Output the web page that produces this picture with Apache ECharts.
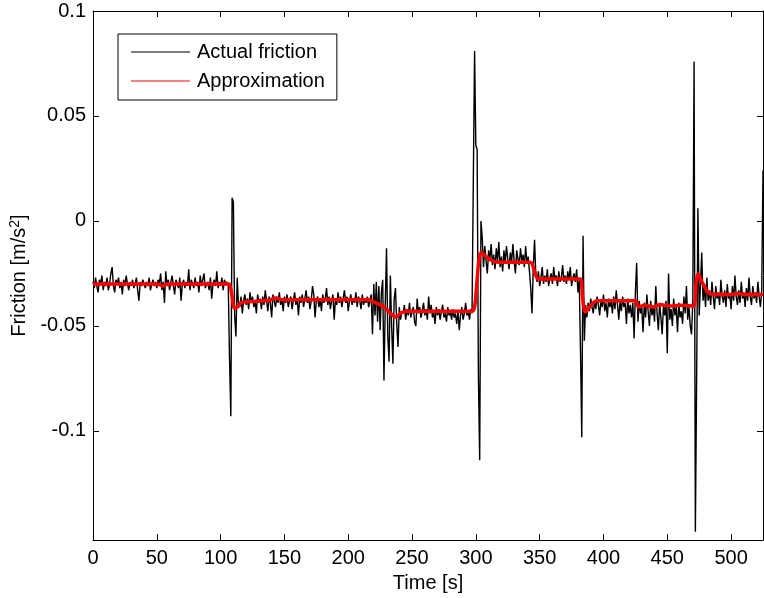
<!DOCTYPE html>
<html>
<head>
<meta charset="utf-8">
<script src="https://cdn.jsdelivr.net/npm/echarts@6/dist/echarts.min.js"></script>
<style>
html,body{margin:0;padding:0;background:#fff;}
#chart{width:764px;height:598px;}
</style>
</head>
<body>
<div id="chart"></div>
<script>
// ---- Data (time in s, friction in m/s^2), 1 s samples per segment ----
const xTicks = [0, 50, 100, 150, 200, 250, 300, 350, 400, 450, 500];
const yTicks = [-0.1, -0.05, 0, 0.05, 0.1];

const segAStart = 0;
const segA = [
  -0.029, -0.032, -0.027, -0.031, -0.034, -0.028, -0.030, -0.026, -0.033, -0.029,
  -0.031, -0.027, -0.033, -0.030, -0.025, -0.022, -0.031, -0.034, -0.028, -0.030,
  -0.027, -0.032, -0.029, -0.035, -0.028, -0.031, -0.026, -0.030, -0.033, -0.029,
  -0.031, -0.028, -0.032, -0.030, -0.027, -0.033, -0.038, -0.029, -0.031, -0.028,
  -0.030, -0.032, -0.029, -0.031, -0.027, -0.033, -0.030, -0.028, -0.031, -0.029,
  -0.032, -0.028, -0.030, -0.025, -0.033, -0.029, -0.039, -0.024, -0.031, -0.028,
  -0.033, -0.029, -0.026, -0.031, -0.035, -0.028, -0.030, -0.032, -0.027, -0.038,
  -0.030, -0.028, -0.032, -0.029, -0.031, -0.023, -0.033, -0.028, -0.030, -0.032,
  -0.027, -0.031, -0.029, -0.034, -0.026, -0.031, -0.028, -0.025, -0.032, -0.030,
  -0.029, -0.033, -0.027, -0.037, -0.030, -0.028, -0.031, -0.024, -0.032, -0.029,
  -0.031, -0.027, -0.033, -0.028, -0.030, -0.029
];
const spike1Start = 106;
const spike1 = [-0.031, -0.066, -0.093, 0.011, 0.009, -0.045, -0.055, -0.027, -0.040];
const segBStart = 115;
const segB = [
  -0.041, -0.036, -0.044, -0.038, -0.035, -0.040, -0.037, -0.042, -0.034, -0.039,
  -0.036, -0.041, -0.038, -0.044, -0.035, -0.039, -0.037, -0.042, -0.036, -0.040,
  -0.033, -0.038, -0.043, -0.036, -0.039, -0.046, -0.035, -0.038, -0.041, -0.036,
  -0.039, -0.034, -0.040, -0.037, -0.043, -0.036, -0.039, -0.035, -0.041, -0.038,
  -0.036, -0.042, -0.038, -0.034, -0.040, -0.037, -0.045, -0.036, -0.039, -0.035,
  -0.041, -0.037, -0.033, -0.039, -0.036, -0.042, -0.038, -0.031, -0.035, -0.046,
  -0.038, -0.036, -0.041, -0.037, -0.043, -0.035, -0.039, -0.037, -0.032, -0.040,
  -0.036, -0.042, -0.038, -0.035, -0.047, -0.037, -0.040, -0.034, -0.039, -0.036,
  -0.041, -0.037, -0.033, -0.039, -0.036, -0.043, -0.038, -0.035, -0.040, -0.037,
  -0.039, -0.034, -0.041, -0.036, -0.038, -0.042, -0.035, -0.040, -0.037, -0.039,
  -0.036, -0.041, -0.038
];
const burstStart = 218;
const burst = [
  -0.035, -0.054, -0.030, -0.045, -0.029, -0.048, -0.031, -0.052, -0.034, -0.028,
  -0.076, -0.040, -0.013, -0.055, -0.067, -0.026, -0.050, -0.068, -0.037, -0.032,
  -0.049, -0.060, -0.041, -0.047, -0.043
];
const segCStart = 243;
const segC = [
  -0.044, -0.040, -0.047, -0.042, -0.045, -0.039, -0.046, -0.043, -0.041, -0.048,
  -0.050, -0.037, -0.044, -0.041, -0.046, -0.043, -0.039, -0.045, -0.042, -0.047,
  -0.036, -0.044, -0.040, -0.046, -0.043, -0.049, -0.041, -0.045, -0.042, -0.047,
  -0.043, -0.040, -0.046, -0.044, -0.048, -0.041, -0.045, -0.043, -0.047, -0.042,
  -0.046, -0.044, -0.049, -0.043, -0.052, -0.045, -0.041, -0.047, -0.044, -0.039,
  -0.045, -0.043, -0.047, -0.042, -0.044
];
const spike2Start = 298;
const spike2 = [-0.044, 0.081, 0.036, 0.034, -0.074, -0.114, 0.000];
const segDStart = 305;
const segD = [
  -0.008, -0.022, -0.012, -0.019, -0.025, -0.014, -0.018, -0.011, -0.021, -0.016,
  -0.023, -0.013, -0.019, -0.010, -0.022, -0.017, -0.024, -0.014, -0.020, -0.012,
  -0.018, -0.023, -0.015, -0.020, -0.011, -0.019, -0.025, -0.014, -0.018, -0.021,
  -0.013, -0.019, -0.016, -0.022, -0.012, -0.020, -0.017, -0.024, -0.032, -0.044,
  -0.022, -0.009, -0.026
];
const segEStart = 348;
const segE = [
  -0.029, -0.024, -0.031, -0.027, -0.022, -0.030, -0.026, -0.029, -0.023, -0.031,
  -0.027, -0.025, -0.030, -0.022, -0.028, -0.026, -0.031, -0.024, -0.029, -0.027,
  -0.021, -0.029, -0.026, -0.030, -0.024, -0.028, -0.022, -0.031, -0.027, -0.025,
  -0.029, -0.023, -0.034, -0.028
];
const spike3Start = 382;
const spike3 = [-0.062, -0.103, -0.007, -0.057];
const segFStart = 386;
const segF = [
  -0.040, -0.046, -0.039, -0.043, -0.037, -0.041, -0.044, -0.038, -0.042, -0.036,
  -0.040, -0.045, -0.038, -0.041, -0.035, -0.043, -0.039, -0.046, -0.037, -0.041,
  -0.038, -0.044, -0.036, -0.042, -0.033, -0.040, -0.047, -0.038, -0.043, -0.036,
  -0.041, -0.039, -0.049, -0.037, -0.044, -0.040, -0.046, -0.039, -0.056, -0.034,
  -0.020, -0.048, -0.038, -0.044, -0.041, -0.053, -0.039, -0.046, -0.035, -0.043,
  -0.050, -0.038, -0.045, -0.041, -0.048, -0.031, -0.044, -0.052, -0.039, -0.046,
  -0.054, -0.040, -0.045, -0.038, -0.063, -0.025, -0.047, -0.042, -0.050, -0.037,
  -0.045, -0.041, -0.053, -0.039, -0.046, -0.043, -0.049, -0.036, -0.044, -0.031,
  -0.047, -0.041, -0.050, -0.054, -0.038
];
const spike4Start = 471;
const spike4 = [0.076, -0.148, -0.075, 0.006, -0.045, -0.030, -0.015, -0.038];
const segGStart = 479;
const segG = [
  -0.032, -0.041, -0.027, -0.038, -0.033, -0.040, -0.029, -0.036, -0.042, -0.031,
  -0.037, -0.034, -0.040, -0.028, -0.036, -0.039, -0.033, -0.041, -0.030, -0.037,
  -0.035, -0.042, -0.031, -0.038, -0.026, -0.036, -0.040, -0.033, -0.039, -0.029,
  -0.037, -0.034, -0.041, -0.032, -0.038, -0.027, -0.036, -0.040, -0.031, -0.037,
  -0.034, -0.039, -0.029, -0.036, -0.041, -0.033, 0.024
];

// Approximation (red) breakpoints
const approxTime = [0, 50, 55, 58, 106, 107.5, 109, 110.8, 113, 116, 120, 138, 143, 148, 216, 220, 228, 234, 237, 241, 245, 297, 299, 300.7, 302.5, 304.2, 308, 313, 319, 342.6, 346, 349, 381.9, 383.5, 385.8, 389, 395, 425, 427.5, 432, 440, 444, 452, 460, 470.6, 472.5, 474, 478, 484, 500, 505, 510, 525];
const approxValue = [-0.030, -0.030, -0.031, -0.030, -0.030, -0.031, -0.036, -0.0415, -0.041, -0.039, -0.0385, -0.0378, -0.0367, -0.0375, -0.0375, -0.0385, -0.041, -0.0445, -0.0458, -0.044, -0.043, -0.043, -0.041, -0.030, -0.018, -0.015, -0.017, -0.019, -0.0197, -0.0197, -0.024, -0.0277, -0.0277, -0.036, -0.0434, -0.041, -0.038, -0.038, -0.041, -0.0402, -0.041, -0.0398, -0.0405, -0.0402, -0.0405, -0.030, -0.0253, -0.030, -0.0348, -0.035, -0.0345, -0.035, -0.035];

// ---- build series from segments ----
const segments = [
  [segAStart, segA], [spike1Start, spike1], [segBStart, segB], [burstStart, burst],
  [segCStart, segC], [spike2Start, spike2], [segDStart, segD], [segEStart, segE],
  [spike3Start, spike3], [segFStart, segF], [spike4Start, spike4], [segGStart, segG]
];
const actualData = [];
segments.forEach(([start, vals]) => vals.forEach((v, i) => actualData.push([start + i, v])));
const approxData = approxTime.map((t, i) => [t, approxValue[i]]);

const FONT = 'Liberation Sans, Arial, Helvetica, sans-serif';
const FS = 20;
const X_MIN = 0, X_MAX = 525, Y_MIN = -0.152, Y_MAX = 0.1;

const chart = echarts.init(document.getElementById('chart'), null, {renderer: 'canvas'});
const baseAxisLine = {show: true, onZero: false, lineStyle: {color: '#000', width: 1}};
const tickIn = (vals) => ({show: true, inside: true, length: 6, lineStyle: {color: '#000', width: 1}, customValues: vals});

chart.setOption({
  animation: false,
  backgroundColor: '#fff',
  textStyle: {fontFamily: FONT},
  grid: {left: 93, right: 1, top: 11, bottom: 56},
  legend: {
    orient: 'vertical',
    left: 118, top: 34,
    padding: [8, 12, 9, 13],
    itemGap: 9,
    itemWidth: 59,
    itemHeight: 1,
    icon: 'rect',
    borderColor: '#000',
    borderWidth: 1,
    borderRadius: 0,
    backgroundColor: '#fff',
    textStyle: {fontFamily: FONT, fontSize: FS, color: '#000', padding: [0, 0, 0, 2]},
    data: [
      {name: 'Actual friction', icon: 'rect', itemStyle: {color: '#000'}},
      {name: 'Approximation', icon: 'rect', itemStyle: {color: '#ff0000'}}
    ]
  },
  xAxis: [
    {
      type: 'value', min: X_MIN, max: X_MAX, position: 'bottom',
      name: 'Time [s]', nameLocation: 'middle', nameGap: 31,
      nameTextStyle: {fontFamily: FONT, fontSize: FS, color: '#000'},
      axisLine: baseAxisLine,
      axisTick: tickIn(xTicks),
      axisLabel: {fontFamily: FONT, fontSize: FS, color: '#000', margin: 8, customValues: xTicks},
      splitLine: {show: false}
    },
    {
      type: 'value', min: X_MIN, max: X_MAX, position: 'top',
      axisLine: baseAxisLine,
      axisTick: tickIn(xTicks),
      axisLabel: {show: false},
      splitLine: {show: false}
    }
  ],
  yAxis: [
    {
      type: 'value', min: Y_MIN, max: Y_MAX, position: 'left',
      name: '{a|Friction [m/s}{s|2}{a|]}', nameLocation: 'middle', nameGap: 62, nameRotate: 90,
      nameTextStyle: {
        fontFamily: FONT, fontSize: FS, color: '#000',
        rich: {
          a: {fontFamily: FONT, fontSize: FS, color: '#000'},
          s: {fontFamily: FONT, fontSize: 14, color: '#000', verticalAlign: 'top', padding: [0, 0, 9, 0]}
        }
      },
      axisLine: baseAxisLine,
      axisTick: tickIn(yTicks),
      axisLabel: {fontFamily: FONT, fontSize: FS, color: '#000', margin: 7, customValues: yTicks},
      splitLine: {show: false}
    },
    {
      type: 'value', min: Y_MIN, max: Y_MAX, position: 'right',
      axisLine: baseAxisLine,
      axisTick: tickIn(yTicks),
      axisLabel: {show: false},
      splitLine: {show: false}
    }
  ],
  series: [
    {
      name: 'Actual friction', type: 'line', xAxisIndex: 0, yAxisIndex: 0,
      data: actualData, showSymbol: false, symbol: 'none',
      lineStyle: {color: '#000', width: 1.4}, itemStyle: {color: '#000'},
      z: 2
    },
    {
      name: 'Approximation', type: 'line', xAxisIndex: 0, yAxisIndex: 0,
      data: approxData, showSymbol: false, symbol: 'none', smooth: 0.3,
      lineStyle: {color: '#ff0000', width: 3.5}, itemStyle: {color: '#ff0000'},
      z: 3
    }
  ]
});
</script>
</body>
</html>
